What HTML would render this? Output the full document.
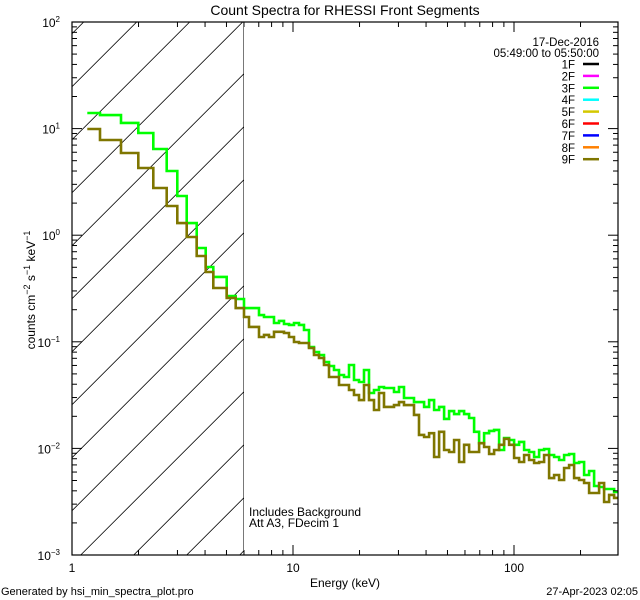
<!DOCTYPE html>
<html><head><meta charset="utf-8"><style>
html,body{margin:0;padding:0;background:#fff;}
svg{display:block;font-family:"Liberation Sans",sans-serif;}
</style></head><body>
<svg id="chart" width="640" height="600" viewBox="0 0 640 600" xmlns="http://www.w3.org/2000/svg">
<rect x="0" y="0" width="640" height="600" fill="#fff"/>
<text x="345" y="15" font-size="14" text-anchor="middle">Count Spectra for RHESSI Front Segments</text>
<g id="hatch"></g>
<g id="series"></g>
<g id="axes"></g>
<text transform="translate(35,290) rotate(-90)" font-size="12" text-anchor="middle">counts cm<tspan dy="-5" font-size="9">−2</tspan><tspan dy="5"> s</tspan><tspan dy="-5" font-size="9">−1</tspan><tspan dy="5"> keV</tspan><tspan dy="-5" font-size="9">−1</tspan></text>
<text x="345" y="587" font-size="12" text-anchor="middle">Energy (keV)</text>
<text x="249" y="516" font-size="12">Includes Background</text>
<text x="249" y="527" font-size="12">Att A3, FDecim 1</text>
<text x="1" y="595" font-size="11">Generated by hsi_min_spectra_plot.pro</text>
<text x="638" y="595" font-size="11" text-anchor="end">27-Apr-2023 02:05</text>
<text x="599" y="46" font-size="11.5" text-anchor="end">17-Dec-2016</text>
<text x="599" y="57" font-size="11.5" text-anchor="end">05:49:00 to 05:50:00</text>
<g id="legend"></g>
</svg>
<script>
const NS = "http://www.w3.org/2000/svg";
// ---- data ----
const lowEdges = [1.173,1.339,1.666,1.995,2.333,2.683,2.996,3.304,3.667,4.027,4.359,5.01,5.505,6.0];
const hiStart = 6.0;
const hiRatio = 1.0535;
const green3F_low = [14.0,13.4,11.3,9.09,6.44,4.00,2.33,1.30,0.759,0.503,0.406,0.269,0.252];
const olive9F_low = [9.91,7.82,5.90,4.27,2.77,1.88,1.30,0.962,0.638,0.452,0.320,0.258,0.207];
const green3F_high = [.207,.207,.207,.178,.171,.171,.150,.157,.147,.144,.150,.144,.129,.0894,.0802,.0752,.0646,.0593,.0544,.0488,.0468,.0606,.0438,.0420,.0544,.0331,.0353,.0377,.0369,.0369,.0338,.0377,.0297,.0297,.0272,.0272,.0245,.0284,.0229,.0245,.0189,.0224,.0210,.0224,.0210,.0193,.0143,.0112,.0139,.0146,.0149,.00966,.0125,.0120,.0108,.0115,.00966,.00925,.00830,.00966,.00987,.00867,.00830,.00778,.00867,.00886,.00729,.00745,.00563,.00614,.00444,.00434,.00416,.00416,.00390];
const olive9F_high = [.171,.138,.138,.111,.116,.111,.124,.124,.121,.111,.0996,.0975,.0975,.0875,.0752,.0705,.0606,.0468,.0468,.0393,.0393,.0353,.0317,.0284,.0393,.0284,.0229,.0331,.0245,.0245,.0255,.0272,.0255,.0255,.0206,.0134,.0128,.0139,.00830,.0143,.00966,.00925,.0120,.00745,.0108,.00925,.00925,.0112,.0103,.00886,.00966,.0108,.0123,.0108,.00813,.00745,.00867,.00778,.00729,.00745,.00867,.00527,.00563,.00505,.00655,.00698,.00527,.00505,.00474,.00382,.00382,.00474,.00314,.00366,.00343];
const legendLabels = ["1F","2F","3F","4F","5F","6F","7F","8F","9F"];
const legendColors = ["#000000","#ff00ff","#00ff00","#00ffff","#d4c800","#ff0000","#0000ff","#ff8000","#7f7600"];
const xTickLabels = ["1","10","100"];
const yTickLabels = [["10","−3"],["10","−2"],["10","−1"],["10","0"],["10","1"],["10","2"]];
const hatchEnergy = 6.0;

// ---- axes ----
const L=72,R=618,T=22,B=555;
const xMinLog=0, decX=221;
const yMaxLog=2, yMinLog=-3;
const X = e => L + (Math.log10(e)-xMinLog)*decX;
const xMaxLog = xMinLog + (R-L)/decX;
const Y = v => T + (yMaxLog-Math.log10(v))*(B-T)/(yMaxLog-yMinLog);

function mk(tag, attrs, parent){const el=document.createElementNS(NS,tag);for(const k in attrs)el.setAttribute(k,attrs[k]);parent.appendChild(el);return el;}

// hatch
const hatch=document.getElementById('hatch');
const hx=X(hatchEnergy);
const defs=mk('defs',{},document.getElementById('chart'));
const cp=mk('clipPath',{id:'hclip'},defs);
mk('rect',{x:L,y:T,width:hx-L,height:B-T},cp);
const cp2=mk('clipPath',{id:'pclip'},defs);
mk('rect',{x:L,y:T,width:R-L,height:B-T},cp2);
hatch.setAttribute('clip-path','url(#hclip)');
for(let c=158.7-53*5;c<hx+B+60;c+=53){
  const ln=mk('line',{x1:c-T,y1:T,x2:c-B,y2:B,stroke:'#000','stroke-width':0.8},hatch);
  
  
}
const vl=mk('line',{x1:hx,y1:T,x2:hx,y2:B,stroke:'#000','stroke-width':1},hatch);



// series
const edges = lowEdges.slice();
for(let k=1;k<=green3F_high.length;k++) edges.push(hiStart*Math.pow(hiRatio,k));
function stepPath(vals){
  let d='';
  vals.forEach((v,i)=>{
    const x1=X(edges[i]),x2=X(edges[i+1]),y=Y(v);
    d += (i===0?'M':'L')+x1.toFixed(1)+','+y.toFixed(1)+' L'+x2.toFixed(1)+','+y.toFixed(1)+' ';
  });
  return d;
}
const sg=document.getElementById('series');
sg.setAttribute('clip-path','url(#pclip)');
const gp=mk('path',{d:stepPath(green3F_low.concat(green3F_high)),fill:'none',stroke:'#00ff00','stroke-width':2.6,'stroke-linejoin':'miter'},sg);


const op=mk('path',{d:stepPath(olive9F_low.concat(olive9F_high)),fill:'none',stroke:'#7f7600','stroke-width':2.6,'stroke-linejoin':'miter'},sg);



// axes
const ax=document.getElementById('axes');
const frame=mk('rect',{x:L,y:T,width:R-L,height:B-T,fill:'none',stroke:'#000','stroke-width':1.2},ax);


// x ticks
for(let p=0;p<=2;p++){
  for(let m=1;m<=9;m++){
    const e=m*Math.pow(10,p); const lg=Math.log10(e);
    if(lg>xMaxLog) continue;
    const x=L+lg*decX; const len=m===1?10:5;
    mk('line',{x1:x,y1:B,x2:x,y2:B-len,stroke:'#000','stroke-width':1},ax);
    mk('line',{x1:x,y1:T,x2:x,y2:T+len,stroke:'#000','stroke-width':1},ax);
  }
  const t=mk('text',{x:L+p*decX,y:572,'font-size':12,'text-anchor':'middle'},ax);
  t.textContent=xTickLabels[p];
  
  
}
// y ticks
for(let p=yMinLog;p<=yMaxLog;p++){
  const y0=Y(Math.pow(10,p));
  if(p<yMaxLog){
    for(let m=1;m<=9;m++){
      const y=Y(m*Math.pow(10,p)); const len=m===1?10:5;
      mk('line',{x1:L,y1:y,x2:L+len,y2:y,stroke:'#000','stroke-width':1},ax);
      mk('line',{x1:R,y1:y,x2:R-len,y2:y,stroke:'#000','stroke-width':1},ax);
    }
  }
  const lab=yTickLabels[p-yMinLog];
  const t=mk('text',{x:60,y:y0+5,'font-size':12,'text-anchor':'end'},ax);
  
  
  t.appendChild(document.createTextNode(lab[0]));
  const s=mk('tspan',{dy:-5,'font-size':8},t); s.textContent=lab[1];
}
// legend
const lg=document.getElementById('legend');
legendLabels.forEach((lab,i)=>{
  const y=64+i*11.9;
  const t=mk('text',{x:575,y:y+4.5,'font-size':11.5,'text-anchor':'end'},lg);
  t.textContent=lab;
  
  
  const l=mk('line',{x1:583,y1:y,x2:599,y2:y,stroke:legendColors[i],'stroke-width':2.5},lg);
  
  
});
</script>
</body></html>
